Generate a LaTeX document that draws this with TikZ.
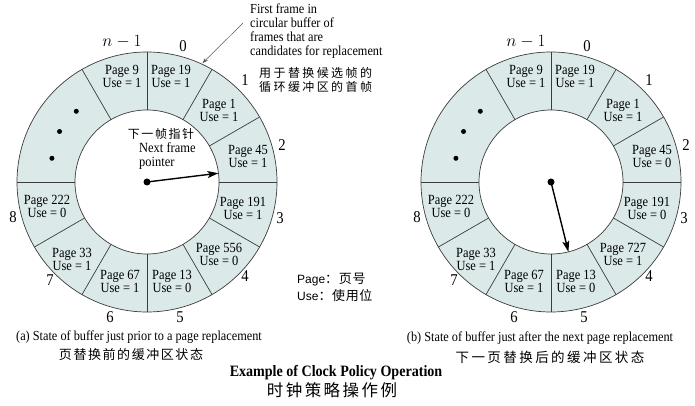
\documentclass[tikz,border=0pt]{standalone}
\usepackage{fontspec}
\setmainfont{Liberation Serif}[FakeStretch=0.89]
\setsansfont{Liberation Sans}
\newfontfamily\cjk{Noto Sans CJK SC}
\usetikzlibrary{calc,arrows.meta}
\definecolor{ringfill}{RGB}{219,233,233}
\definecolor{ringline}{RGB}{60,60,60}
\newcommand{\zh}[3]{{\cjk\fontsize{#1}{#1}\selectfont\addfontfeature{LetterSpace=#2}#3}}
\tikzset{
  ringline/.style={draw=ringline,line width=0.7pt},
  pagetext/.style={align=center,inner sep=0pt,font=\fontsize{14}{13}\selectfont},
  numlabel/.style={inner sep=0pt,font=\fontsize{16.5}{16.5}\selectfont},
  dotmark/.style={circle,fill=black,inner sep=0pt,minimum size=5pt},
  pivot/.style={circle,fill=black,inner sep=0pt,minimum size=7pt},
  pointer/.style={line width=1.4pt,-{Stealth[length=11pt,width=7pt,inset=2.5pt]}},
  annarrow/.style={draw=black!65,line width=0.5pt,-{Stealth[length=6pt,width=4pt]}},
  captext/.style={inner sep=0pt,font=\fontsize{13.8}{13.8}\selectfont},
}
\newcommand{\ringframe}[1]{%
  \fill[ringfill,even odd rule] (#1c) circle[radius=130pt] (#1c) circle[radius=72pt];
  \draw[ringline] (#1c) circle[radius=130pt];
  \draw[ringline] (#1c) circle[radius=72pt];
  \foreach \a in {90,60,30,0,-30,-60,-90,-120,-150,180,120}
    \draw[ringline] ($(#1c)+(\a:72pt)$) -- ($(#1c)+(\a:130pt)$);
  \node[numlabel] (#1n0) at ($(#1c)+(36pt,136pt)$) {0};
  \node[numlabel] (#1n1) at ($(#1c)+(98pt,102pt)$) {1};
  \node[numlabel] (#1n2) at ($(#1c)+(135pt,37pt)$) {2};
  \node[numlabel] (#1n3) at ($(#1c)+(133pt,-36pt)$) {3};
  \node[numlabel] (#1n4) at ($(#1c)+(98pt,-94pt)$) {4};
  \node[numlabel] (#1n5) at ($(#1c)+(33pt,-135pt)$) {5};
  \node[numlabel] (#1n6) at ($(#1c)+(-37pt,-135pt)$) {6};
  \node[numlabel] (#1n7) at ($(#1c)+(-97pt,-98pt)$) {7};
  \node[numlabel] (#1n8) at ($(#1c)+(-134pt,-35pt)$) {8};
  \node[numlabel] (#1nn) at ($(#1c)+(-25pt,140pt)$) {$n-1$};
  \node[dotmark] (#1d1) at ($(#1c)+(135:100pt)$) {};
  \node[dotmark] (#1d2) at ($(#1c)+(150:101pt)$) {};
  \node[dotmark] (#1d3) at ($(#1c)+(166:98pt)$) {};
}
\newcommand{\pg}[5]{\node[pagetext] (#1) at ($(#2)+(#3)$) {Page #4\\Use = #5};}
\begin{document}
\begin{tikzpicture}[x=1pt,y=1pt]
\useasboundingbox (0,0) rectangle (695,406);
\coordinate (Lc) at (147,224);
\coordinate (Rc) at (551,224);
% ---------- left ring
\ringframe{L}
\pg{Lp19}{Lc}{24pt,106pt}{19}{1}
\pg{Lp1}{Lc}{72pt,72pt}{1}{1}
\pg{Lp45}{Lc}{101pt,26pt}{45}{1}
\pg{Lp191}{Lc}{96pt,-26pt}{191}{1}
\pg{Lp556}{Lc}{72pt,-72pt}{556}{0}
\pg{Lp13}{Lc}{25pt,-99pt}{13}{0}
\pg{Lp67}{Lc}{-27pt,-99pt}{67}{1}
\pg{Lp33}{Lc}{-75pt,-77pt}{33}{1}
\pg{Lp222}{Lc}{-100pt,-24pt}{222}{0}
\pg{Lp9}{Lc}{-25pt,106pt}{9}{1}
\node[pivot] (Lpiv) at (Lc) {};
\coordinate (Ltip) at ($(Lc)+(7:72pt)$);
\draw[pointer] (Lpiv.center) -- (Ltip);
\node[inner sep=0pt] (Lzh) at (161,272) {\zh{12}{13}{下一帧指针}};
\node[align=left,inner sep=0pt,anchor=west,font=\fontsize{14}{14}\selectfont] (Lptr) at (139,250) {Next frame\\pointer};
% ---------- right ring
\ringframe{R}
\pg{Rp19}{Rc}{24pt,106pt}{19}{1}
\pg{Rp1}{Rc}{72pt,72pt}{1}{1}
\pg{Rp45}{Rc}{101pt,26pt}{45}{0}
\pg{Rp191}{Rc}{96pt,-26pt}{191}{0}
\pg{Rp727}{Rc}{72pt,-72pt}{727}{1}
\pg{Rp13}{Rc}{25pt,-99pt}{13}{0}
\pg{Rp67}{Rc}{-27pt,-99pt}{67}{1}
\pg{Rp33}{Rc}{-75pt,-77pt}{33}{1}
\pg{Rp222}{Rc}{-100pt,-24pt}{222}{0}
\pg{Rp9}{Rc}{-25pt,106pt}{9}{1}
\node[pivot] (Rpiv) at (Rc) {};
\coordinate (Rtip) at ($(Rc)+(-76:72pt)$);
\draw[pointer] (Rpiv.center) -- (Rtip);
% ---------- annotation
\node[align=left,inner sep=0pt,anchor=north west,font=\fontsize{13.8}{14}\selectfont] (ann) at (250,402)
  {First frame in\\circular buffer of\\frames that are\\candidates for replacement};
\node[align=left,inner sep=0pt,anchor=west] (annzh) at (259,326)
  {\zh{12}{20}{用于替换候选帧的}\\[2pt]\zh{12}{20}{循环缓冲区的首帧}};
\coordinate (annstart) at (243,383);
\coordinate (anntip) at ($(Lc)+(65:131pt)$);
\draw[annarrow] (annstart) -- (anntip);
% ---------- legend
\node[anchor=west,inner sep=0pt,font=\sffamily\fontsize{12}{12}\selectfont] (legpage) at (297,126) {Page\zh{13}{5}{：页号}};
\node[anchor=west,inner sep=0pt,font=\sffamily\fontsize{12}{12}\selectfont] (leguse) at (297,110) {Use\zh{13}{5}{：使用位}};
% ---------- captions
\node[captext] (capa) at (139,69) {(a) State of buffer just prior to a page replacement};
\node[inner sep=0pt] (capazh) at (131,51) {\zh{13}{12}{页替换前的缓冲区状态}};
\node[captext] (capb) at (540,68) {(b) State of buffer just after the next page replacement};
\node[inner sep=0pt] (capbzh) at (550,49) {\zh{13.5}{18}{下一页替换后的缓冲区状态}};
\node[inner sep=0pt,font=\bfseries\fontsize{15.8}{15.8}\selectfont] (title) at (336,33) {Example of Clock Policy Operation};
\node[inner sep=0pt] (titlezh) at (332,16) {\zh{16.5}{15}{时钟策略操作例}};
\end{tikzpicture}
\end{document}
